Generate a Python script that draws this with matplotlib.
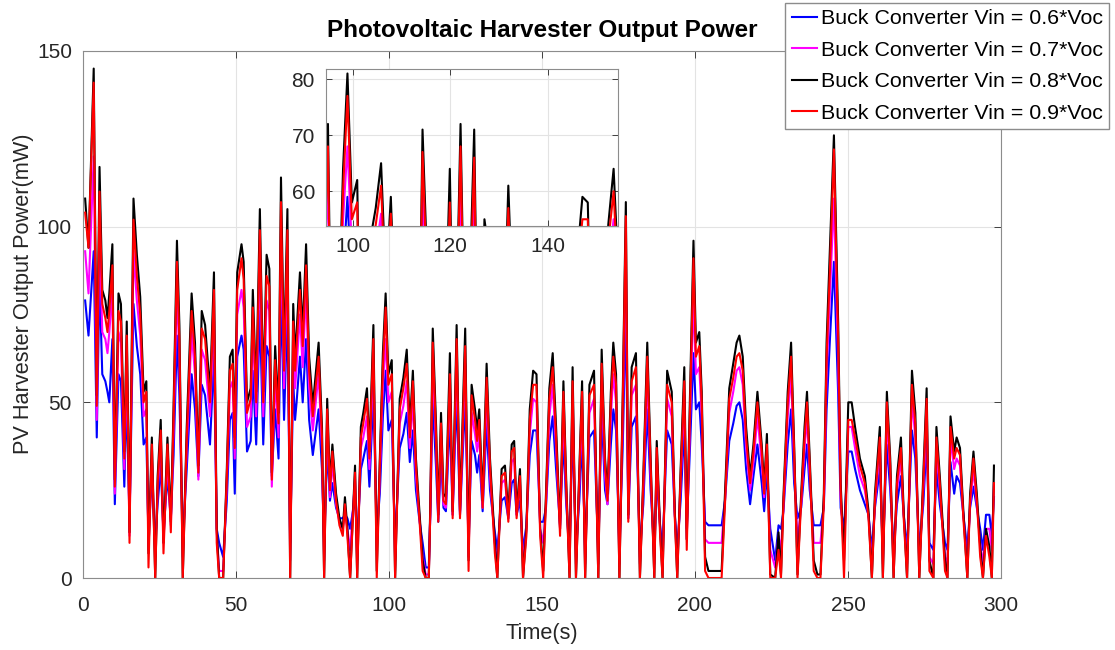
import matplotlib
matplotlib.use("Agg")
import matplotlib.pyplot as plt

plt.rcParams['font.family'] = ['Liberation Sans', 'DejaVu Sans']

# time stamps (s)
time_s = [0.7, 1.8, 3.5, 4.5, 5.4, 6.3, 7.3, 8.0, 8.6, 9.6, 10.4, 11.6, 12.4, 13.5, 14.3, 15.2, 16.5, 17.6, 18.7, 19.8,
          20.7, 21.4, 22.5, 23.6, 24.4, 25.4, 26.3, 27.6, 28.7, 29.6, 30.7, 31.5, 32.6, 33.9, 35.5, 36.6, 37.7, 38.8, 39.9, 41.5,
          42.8, 43.7, 44.5, 45.8, 47.0, 48.0, 48.9, 49.6, 50.4, 51.8, 52.5, 53.6, 54.8, 55.5, 56.6, 57.8, 58.9, 60.0, 60.9, 61.7,
          62.8, 63.9, 64.7, 65.7, 66.8, 67.7, 68.7, 69.3, 69.8, 70.9, 71.8, 72.9, 73.9, 75.1, 77.0, 78.1, 78.8, 79.8, 80.7, 81.5,
          82.7, 83.8, 84.9, 85.6, 86.4, 87.3, 88.9, 89.6, 90.8, 91.6, 92.8, 93.6, 94.9, 96.0, 97.0, 98.0, 98.9, 99.8, 100.9, 102.0,
          103.5, 104.7, 105.8, 106.8, 107.8, 108.8, 110.0, 111.0, 112.0, 113.0, 113.5, 114.3, 115.4, 116.1, 117.0, 117.8, 118.6, 119.9, 120.8, 122.1,
          123.2, 124.9, 126.0, 127.0, 128.1, 128.8, 129.5, 130.6, 131.9, 133.0, 134.6, 135.4, 136.8, 137.9, 139.0, 140.1, 140.9, 141.7, 142.8, 143.8,
          144.9, 146.0, 147.1, 148.2, 149.4, 150.4, 151.3, 152.4, 153.5, 154.6, 155.9, 157.0, 157.9, 159.0, 160.0, 161.1, 162.2, 163.1, 164.1, 165.5,
          167.0, 168.4, 169.5, 170.6, 171.4, 172.5, 173.3, 174.2, 175.3, 176.4, 177.4, 178.2, 179.3, 180.7, 182.0, 183.1, 184.4, 185.5, 186.7, 187.5,
          188.6, 189.4, 190.9, 192.4, 193.4, 194.2, 195.3, 196.5, 197.3, 198.4, 199.5, 200.3, 201.4, 202.2, 203.3, 204.4, 208.7, 209.8, 211.2, 212.5,
          213.6, 214.5, 215.6, 216.7, 218.0, 219.1, 220.4, 221.8, 222.6, 223.5, 224.6, 226.2, 227.3, 228.1, 228.9, 230.3, 231.4, 232.4, 233.5, 234.7,
          235.8, 236.6, 237.5, 238.8, 240.0, 241.0, 242.1, 243.0, 244.1, 245.4, 246.3, 246.8, 247.6, 248.7, 250.1, 251.2, 252.3, 253.9, 255.5, 256.7,
          257.8, 258.8, 260.4, 261.4, 262.7, 263.8, 264.9, 266.0, 267.3, 268.2, 269.3, 270.9, 272.0, 273.3, 274.6, 275.7, 276.6, 277.9, 278.9, 280.0,
          281.7, 282.5, 283.5, 284.7, 285.5, 286.6, 287.7, 289.0, 289.9, 291.0, 292.1, 293.2, 294.1, 295.1, 296.2, 297.0, 297.7]

# Vin = 0.8*Voc (black)
p_08 = [108, 94, 145, 52, 117, 82, 79, 74, 81, 95, 28, 81, 78, 36, 73, 13, 108, 92, 80, 53,
        56, 7, 40, 0, 29, 45, 10, 40, 16, 49, 96, 72, 0, 43, 81, 67, 32, 76, 72, 53,
        87, 14, 0, 0, 31, 63, 65, 40, 87, 95, 90, 50, 54, 82, 53, 105, 53, 92, 88, 30,
        66, 47, 114, 63, 105, 0, 78, 63, 70, 87, 70, 95, 63, 49, 67, 43, 0, 51, 27, 38,
        24, 17, 14, 23, 14, 0, 32, 0, 43, 47, 54, 36, 72, 2, 34, 64, 81, 58, 62, 0,
        51, 57, 65, 43, 59, 34, 18, 5, 0, 0, 21, 71, 43, 18, 47, 24, 23, 64, 19, 72,
        19, 71, 5, 55, 48, 42, 48, 22, 61, 34, 10, 0, 31, 32, 18, 38, 39, 19, 31, 0,
        14, 48, 59, 58, 14, 2, 24, 54, 64, 43, 14, 56, 28, 0, 60, 0, 31, 56, 0, 55,
        59, 0, 65, 34, 24, 53, 67, 58, 0, 53, 107, 18, 60, 64, 0, 29, 67, 34, 0, 39,
        14, 0, 59, 53, 19, 0, 31, 60, 11, 53, 96, 67, 70, 53, 6, 2, 2, 24, 54, 61,
        67, 69, 63, 43, 29, 38, 53, 38, 26, 41, 1, 0, 13, 1, 23, 53, 67, 38, 1, 24,
        43, 53, 34, 5, 1, 1, 24, 67, 94, 126, 92, 72, 27, 5, 50, 50, 43, 34, 29, 19,
        0, 24, 43, 0, 53, 34, 0, 29, 40, 19, 0, 59, 47, 0, 29, 54, 5, 0, 43, 29,
        5, 0, 46, 36, 40, 37, 19, 0, 24, 36, 24, 9, 0, 14, 9, 0, 32]

# Vin = 0.9*Voc (red)
p_09 = [104, 94, 141, 49, 110, 78, 74, 70, 76, 89, 26, 76, 73, 34, 69, 10, 102, 86, 75, 50,
        53, 3, 38, 0, 27, 42, 7, 38, 13, 46, 90, 68, 0, 40, 76, 63, 30, 71, 68, 50,
        82, 10, 0, 0, 29, 59, 61, 37, 82, 91, 85, 47, 51, 77, 50, 99, 50, 86, 83, 28,
        62, 44, 107, 59, 99, 0, 73, 59, 66, 82, 66, 89, 59, 46, 63, 40, 0, 48, 25, 36,
        22, 15, 12, 21, 12, 0, 30, 0, 40, 44, 51, 34, 68, 0, 32, 60, 77, 55, 58, 0,
        48, 54, 61, 40, 56, 32, 16, 2, 0, 0, 19, 67, 40, 16, 44, 22, 21, 58, 17, 68,
        17, 66, 2, 52, 45, 39, 45, 20, 57, 32, 7, 0, 29, 30, 16, 36, 37, 17, 29, 0,
        12, 45, 55, 55, 12, 0, 22, 51, 60, 40, 12, 53, 26, 0, 56, 0, 29, 53, 0, 52,
        55, 0, 61, 32, 22, 50, 63, 55, 0, 50, 103, 16, 56, 60, 0, 27, 63, 32, 0, 37,
        12, 0, 55, 50, 17, 0, 29, 56, 8, 50, 91, 63, 66, 50, 2, 0, 0, 21, 51, 57,
        63, 64, 59, 40, 27, 36, 50, 36, 24, 38, 0, 0, 8, 0, 21, 50, 63, 36, 0, 22,
        40, 50, 32, 2, 0, 0, 21, 63, 88, 122, 86, 68, 25, 0, 45, 45, 40, 32, 27, 17,
        0, 22, 40, 0, 50, 32, 0, 27, 37, 17, 0, 55, 44, 0, 27, 51, 2, 0, 40, 27,
        2, 0, 43, 34, 37, 35, 17, 0, 22, 34, 22, 6, 0, 12, 6, 0, 27]

# Vin = 0.7*Voc (magenta)
p_07 = [93, 81, 120, 45, 100, 70, 68, 64, 70, 82, 24, 70, 67, 31, 63, 12, 93, 79, 69, 46,
        48, 8, 34, 6, 25, 39, 10, 34, 15, 42, 83, 62, 6, 37, 70, 58, 28, 65, 62, 46,
        75, 13, 2, 2, 27, 54, 56, 34, 75, 82, 77, 43, 46, 71, 46, 90, 46, 79, 76, 26,
        57, 40, 98, 54, 90, 5, 67, 54, 60, 75, 60, 82, 54, 42, 58, 37, 5, 44, 23, 33,
        21, 16, 14, 20, 14, 8, 28, 5, 37, 40, 46, 31, 62, 8, 29, 55, 68, 50, 53, 5,
        44, 49, 56, 37, 51, 29, 17, 6, 1, 1, 19, 61, 37, 17, 40, 21, 20, 55, 18, 62,
        18, 61, 6, 47, 41, 36, 41, 20, 52, 29, 10, 4, 27, 28, 17, 33, 34, 18, 27, 4,
        14, 41, 51, 50, 14, 10, 21, 46, 55, 37, 14, 48, 24, 4, 52, 4, 27, 48, 4, 47,
        51, 4, 56, 29, 21, 46, 58, 50, 4, 46, 92, 17, 52, 55, 4, 25, 58, 29, 4, 34,
        14, 4, 51, 46, 18, 4, 27, 52, 11, 46, 80, 58, 60, 46, 11, 10, 10, 22, 47, 53,
        59, 60, 55, 37, 25, 33, 46, 33, 23, 36, 8, 3, 12, 8, 20, 46, 58, 33, 10, 21,
        37, 46, 29, 10, 10, 10, 21, 58, 81, 108, 79, 62, 23, 8, 43, 43, 37, 29, 25, 18,
        4, 21, 37, 4, 46, 29, 4, 25, 34, 18, 4, 51, 40, 4, 25, 46, 6, 4, 37, 25,
        6, 4, 40, 31, 34, 32, 18, 4, 21, 31, 21, 10, 4, 14, 14, 8, 27]

# Vin = 0.6*Voc (blue)
p_06 = [79, 69, 93, 40, 85, 58, 56, 53, 50, 68, 21, 58, 56, 26, 52, 16, 78, 66, 58, 38,
        40, 12, 29, 10, 21, 32, 13, 29, 17, 35, 69, 52, 10, 31, 58, 48, 29, 55, 52, 38,
        63, 14, 10, 6, 22, 45, 47, 24, 63, 69, 65, 36, 39, 59, 38, 76, 38, 66, 63, 29,
        48, 34, 82, 45, 76, 10, 56, 45, 50, 63, 50, 68, 45, 35, 48, 31, 10, 37, 22, 27,
        20, 17, 17, 18, 17, 14, 23, 10, 31, 34, 39, 26, 52, 13, 24, 46, 59, 42, 45, 10,
        37, 41, 47, 33, 42, 25, 16, 10, 3, 3, 18, 51, 31, 16, 34, 20, 19, 46, 18, 52,
        18, 51, 10, 39, 35, 30, 35, 19, 44, 25, 13, 8, 22, 23, 17, 27, 28, 18, 22, 8,
        15, 35, 42, 42, 16, 16, 20, 39, 46, 31, 15, 40, 21, 8, 43, 8, 22, 40, 8, 40,
        42, 8, 47, 25, 21, 38, 48, 42, 8, 38, 77, 17, 43, 46, 8, 21, 48, 25, 8, 28,
        15, 8, 42, 38, 18, 8, 22, 43, 14, 38, 64, 48, 50, 38, 16, 15, 15, 22, 39, 44,
        49, 50, 45, 31, 21, 29, 38, 27, 19, 30, 14, 5, 15, 14, 19, 38, 48, 27, 17, 20,
        31, 38, 25, 15, 15, 15, 20, 48, 68, 90, 66, 52, 20, 14, 36, 36, 31, 25, 21, 18,
        8, 20, 31, 8, 38, 25, 8, 21, 29, 18, 8, 42, 34, 8, 21, 39, 10, 8, 31, 21,
        10, 8, 33, 24, 29, 27, 18, 8, 20, 26, 20, 14, 8, 18, 18, 12, 23]

labels = ['Buck Converter Vin = 0.6*Voc', 'Buck Converter Vin = 0.7*Voc',
          'Buck Converter Vin = 0.8*Voc', 'Buck Converter Vin = 0.9*Voc']
series = [p_06, p_07, p_08, p_09]
colors = ['#0000ff', '#ff00ff', '#000000', '#ff0000']

txt = '#262626'
fig = plt.figure(figsize=(11.15, 6.5), dpi=100)
ax = fig.add_axes([83 / 1115, 1 - 578 / 650, 918 / 1115, 527 / 650])

for y, c, lab in zip(series, colors, labels):
    ax.plot(time_s, y, color=c, lw=1.5, label=lab)

ax.set_xlim(0, 300)
ax.set_ylim(0, 150)
ax.set_xticks([0, 50, 100, 150, 200, 250, 300])
ax.set_yticks([0, 50, 100, 150])
ax.grid(True, color='#e3e3e3', lw=0.8)
ax.set_axisbelow(True)
ax.tick_params(direction='in', top=True, right=True, labelsize=15, colors=txt, length=5, width=0.6)
ax.tick_params(axis='x', pad=13)
ax.tick_params(axis='y', pad=8)
for s in ax.spines.values():
    s.set_color('#8c8c8c')
    s.set_linewidth(0.8)
ax.set_xlabel('Time(s)', fontsize=15.7, color=txt, labelpad=6)
ax.set_ylabel('PV Harvester Output Power(mW)', fontsize=15.7, color=txt)
ax.yaxis.set_label_coords(-0.053, 0.54)
ax.set_title('Photovoltaic Harvester Output Power', fontsize=17.5, fontweight='bold', pad=10)

fig.legend(loc='upper right', bbox_to_anchor=(1109 / 1115, 1 - 3 / 650), fontsize=15.4,
           frameon=True, fancybox=False, framealpha=1, edgecolor='#8c8c8c',
           handlelength=1.2, handletextpad=0.15, borderpad=0.3, labelspacing=0.58,
           borderaxespad=0)

# zoomed inset
axi = fig.add_axes([326 / 1115, 1 - 226 / 650, 292 / 1115, 157 / 650])
for y, c in zip(series, colors):
    axi.plot(time_s, y, color=c, lw=1.5)
axi.set_xlim(94.5, 154.4)
axi.set_ylim(53.8, 81.8)
axi.set_xticks([100, 120, 140])
axi.set_yticks([60, 70, 80])
axi.grid(True, color='#e3e3e3', lw=0.8)
axi.set_axisbelow(True)
axi.tick_params(direction='in', top=True, right=True, labelsize=15, colors=txt, length=4, width=0.6, pad=8)
for s in axi.spines.values():
    s.set_color('#8c8c8c')
    s.set_linewidth(0.8)

fig.savefig('out.png', dpi=100)
